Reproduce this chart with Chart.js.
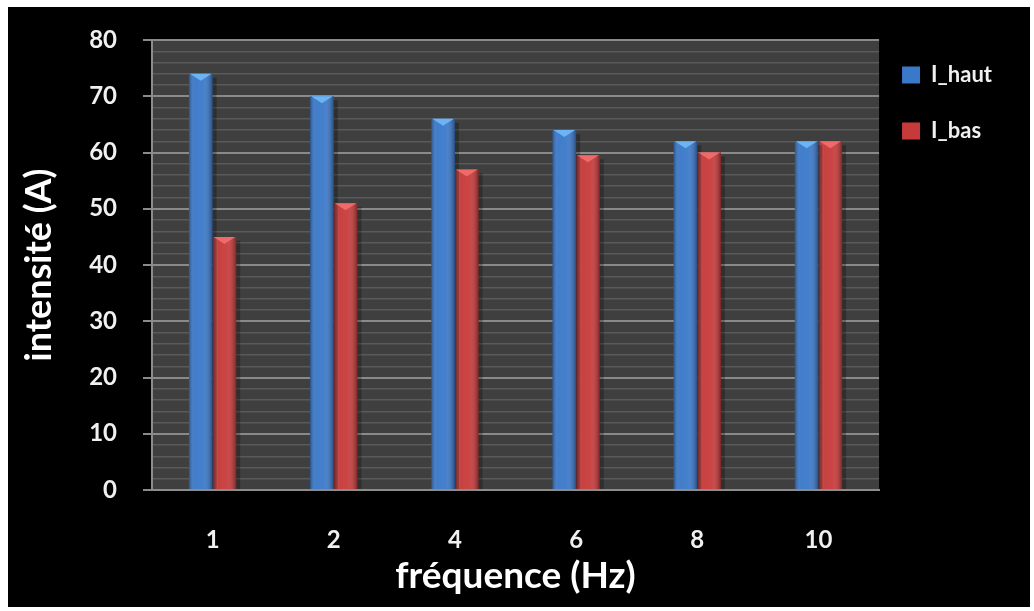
<!DOCTYPE html>
<html>
<head>
<meta charset="utf-8">
<script src="https://cdn.jsdelivr.net/npm/chart.js@4/dist/chart.umd.min.js"></script>
<style>
  html, body { margin: 0; padding: 0; background: #fff; }
  #wrap { position: absolute; left: 8px; top: 7px; width: 1022px; height: 600px; background: #000; }
</style>
</head>
<body>
<div id="wrap"><canvas id="graphique"></canvas></div>
<script>
// données
const frequences = ['1', '2', '4', '6', '8', '10'];
const iHaut = [74, 70, 66, 64, 62, 62];
const iBas = [45, 51, 57, 59.5, 60, 62];
const yMin = 0, yMax = 80, pasMajeur = 10, pasMineur = 2;

const POLICE = 'Lato, "DejaVu Sans", sans-serif';

// fond gris de la zone de tracé
const fondZone = {
    id: 'fondZone',
    beforeDraw(chart) {
        const { ctx, chartArea: a } = chart;
        ctx.save();
        ctx.fillStyle = '#3f3f3f';
        ctx.fillRect(a.left, a.top, a.right - a.left, a.bottom - a.top);
        ctx.restore();
    }
};

// rapprocher la légende de la zone de tracé
const placeLegende = {
    id: 'placeLegende',
    afterLayout(chart) {
        chart.legend.left -= 11;
        chart.legend.right -= 11;
        chart.legend.top -= 10;
    }
};

// effet de relief sur les barres (dégradé + pointe claire en haut)
const relief = {
    id: 'relief',
    afterDatasetsDraw(chart) {
        const ctx = chart.ctx;
        chart.data.datasets.forEach((ds, i) => {
            const meta = chart.getDatasetMeta(i);
            meta.data.forEach(bar => {
                const { x, y, base, width } = bar.getProps(['x', 'y', 'base', 'width'], true);
                const l = x - width / 2, r = x + width / 2;
                ctx.save();
                const g = ctx.createLinearGradient(l, 0, r, 0);
                g.addColorStop(0, 'rgba(0,0,0,0.30)');
                g.addColorStop(0.25, 'rgba(255,255,255,0.04)');
                g.addColorStop(0.6, 'rgba(255,255,255,0.06)');
                g.addColorStop(1, 'rgba(0,0,0,0.35)');
                ctx.fillStyle = g;
                ctx.fillRect(l, y, width, base - y);
                // ombre à droite
                ctx.fillStyle = 'rgba(0,0,0,0.25)';
                ctx.fillRect(r, y + 4, 4, base - y - 4);
                // pointe
                ctx.fillStyle = ds.couleurPointe;
                ctx.beginPath();
                ctx.moveTo(l + 1, y);
                ctx.lineTo(r - 1, y);
                ctx.lineTo(x, y + 7);
                ctx.closePath();
                ctx.fill();
                ctx.restore();
            });
        });
    }
};

new Chart(document.getElementById('graphique'), {
    type: 'bar',
    data: {
        labels: frequences,
        datasets: [
            {
                label: 'I_haut',
                data: iHaut,
                backgroundColor: '#3a78c9',
                couleurPointe: '#6cb4f4',
                barPercentage: 1,
                categoryPercentage: 0.39
            },
            {
                label: 'I_bas',
                data: iBas,
                backgroundColor: '#c73a3a',
                couleurPointe: '#f06a6a',
                barPercentage: 1,
                categoryPercentage: 0.39
            }
        ]
    },
    options: {
        responsive: true,
        maintainAspectRatio: false,
        animation: false,
        layout: { padding: { top: 33, right: 17, bottom: 0, left: 0 } },
        plugins: {
            tooltip: { enabled: false },
            legend: {
                position: 'right',
                align: 'start',
                labels: {
                    color: '#f0f0f0',
                    font: { family: POLICE, size: 22, weight: 'bold' },
                    boxWidth: 18,
                    boxHeight: 17,
                    padding: 34,
                    generateLabels(chart) {
                        return chart.data.datasets.map((ds, i) => ({
                            text: ds.label,
                            fillStyle: ds.backgroundColor,
                            strokeStyle: ds.backgroundColor,
                            lineWidth: 0,
                            fontColor: '#f0f0f0',
                            datasetIndex: i
                        }));
                    }
                }
            }
        },
        scales: {
            x: {
                grid: { display: false },
                border: { display: true, color: '#8c8c8c', width: 2 },
                ticks: {
                    color: '#f0f0f0',
                    font: { family: POLICE, size: 24, weight: 'bold' },
                    padding: 28
                },
                title: {
                    display: true,
                    text: 'fréquence (Hz)',
                    color: '#ffffff',
                    font: { family: POLICE, size: 37, weight: 'bold' },
                    padding: { top: 0, bottom: 9 }
                },
                afterFit(scale) { scale.height = 117; }
            },
            y: {
                min: yMin,
                max: yMax,
                grid: {
                    color: c => c.tick.value % pasMajeur === 0 ? '#8a8a8a' : '#5a5a5a',
                    lineWidth: c => c.tick.value % pasMajeur === 0 ? 2 : 1.5,
                    tickColor: c => c.tick.value % pasMajeur === 0 ? '#8a8a8a' : 'rgba(0,0,0,0)',
                    tickLength: 9
                },
                border: { display: true, color: '#8c8c8c', width: 2 },
                ticks: {
                    stepSize: pasMineur,
                    autoSkip: false,
                    color: '#f0f0f0',
                    font: { family: POLICE, size: 24, weight: 'bold' },
                    padding: 26,
                    callback: v => v % pasMajeur === 0 ? v : ''
                },
                title: {
                    display: true,
                    text: 'intensité (A)',
                    color: '#ffffff',
                    font: { family: POLICE, size: 36, weight: 'bold' },
                    padding: { top: 10, bottom: 0 }
                },
                afterFit(scale) {
                    scale.width = 144;
                    scale.paddingTop = 0;
                }
            }
        }
    },
    plugins: [fondZone, placeLegende, relief]
});
</script>
</body>
</html>
